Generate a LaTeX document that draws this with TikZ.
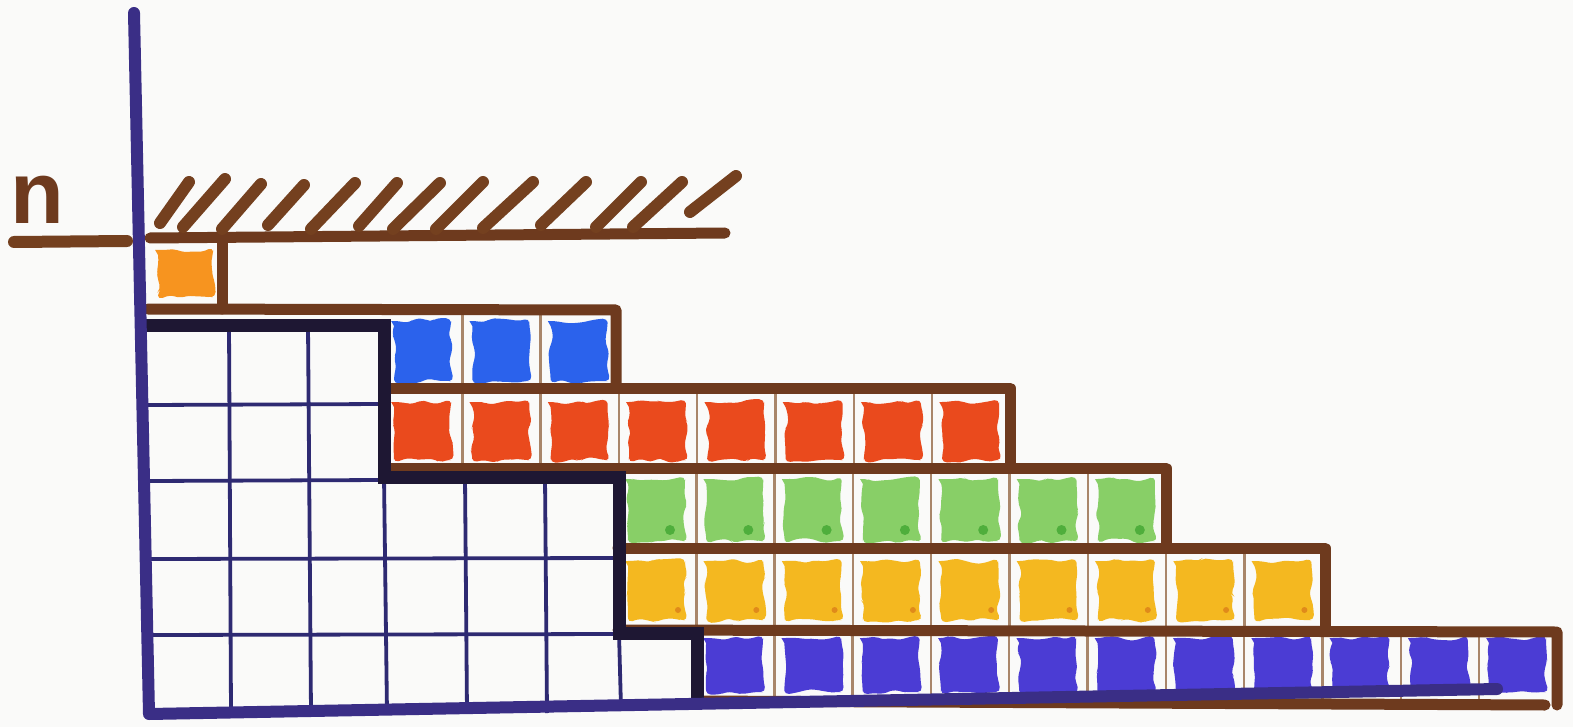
\documentclass[tikz,border=0pt]{standalone}
\usepackage{fontspec}
\setmainfont{Liberation Sans}
\usetikzlibrary{decorations.pathmorphing}
\definecolor{paper}{HTML}{FAFAF9}
\definecolor{axisblue}{HTML}{3A2E86}
\definecolor{stairblack}{HTML}{1E1733}
\definecolor{brownf}{HTML}{6E3A1E}
\definecolor{hatchbrown}{HTML}{74401F}
\definecolor{seplight}{HTML}{A9866A}
\definecolor{gridblue}{HTML}{2E2A72}
\definecolor{orangec}{HTML}{F7941F}
\definecolor{bluec}{HTML}{2B62EC}
\definecolor{redc}{HTML}{EA4A1D}
\definecolor{greenc}{HTML}{88CF67}
\definecolor{greendark}{HTML}{4FAE3C}
\definecolor{yellowc}{HTML}{F4B820}
\definecolor{yellowdot}{HTML}{E08A1A}
\definecolor{purplec}{HTML}{4B3CD4}
\begin{document}
\begin{tikzpicture}[x=1pt,y=-1pt,
  blob/.style={decorate, decoration={random steps, segment length=8pt, amplitude=2.8pt}, rounded corners=5pt},
  frame/.style={draw=brownf, line width=11pt, line cap=round, line join=round},
  sepline/.style={draw=seplight, line width=2.4pt},
  gridline/.style={draw=gridblue, line width=3.8pt},
  stair/.style={draw=stairblack, line width=13pt, line join=miter},
  axisline/.style={draw=axisblue, line width=12pt, line cap=round, line join=round},
  hatch/.style={draw=hatchbrown, line width=12pt, line cap=round}]
\pgfmathsetseed{7}
\fill[paper] (0,0) rectangle (1573,727);
\useasboundingbox (0,0) rectangle (1573,727);

% ---------- coloured blobs ----------
\fill[orangec, blob] (158,250) rectangle (213,297);
\foreach \i in {0,1,2}
  \fill[bluec, blob] ({384+78.3*\i+10},321) rectangle ({384+78.3*\i+67},381);
\foreach \i in {0,...,7}
  \fill[redc, blob] ({384+78.3*\i+10},402) rectangle ({384+78.3*\i+67},460);
\foreach \i in {0,...,6}{
  \fill[greenc, blob] ({618+78.3*\i+10},479) rectangle ({618+78.3*\i+67},541);
  \fill[greendark] ({618+78.3*\i+52},530) circle[radius=5pt];
}
\foreach \i in {0,...,8}{
  \fill[yellowc, blob] ({618+78.3*\i+10},561) rectangle ({618+78.3*\i+67},620);
  \fill[yellowdot] ({618+78.3*\i+60},610) circle[radius=3pt];
}
\foreach \i in {0,...,10}
  \fill[purplec, blob] ({696+78.3*\i+10},638) rectangle ({696+78.3*\i+67},692);

% ---------- thin separators inside coloured rows ----------
\foreach \i in {1,2}
  \draw[sepline] ({384+78.3*\i},310) -- ({384+78.3*\i},388);
\foreach \i in {1,...,7}
  \draw[sepline] ({384+78.3*\i},388) -- ({384+78.3*\i},468);
\foreach \i in {1,...,6}
  \draw[sepline] ({618+78.3*\i},468) -- ({618+78.3*\i},548);
\foreach \i in {1,...,8}
  \draw[sepline] ({618+78.3*\i},548) -- ({618+78.3*\i},630);
\foreach \i in {1,...,10}
  \draw[sepline] ({696+78.3*\i},630) -- ({696+78.3*\i},703);

% ---------- white grid ----------
\draw[gridline] (148,405) -- (384,404);
\draw[gridline] (148,481) -- (384,480);
\draw[gridline] (148,559) -- (619,558);
\draw[gridline] (150,635) -- (619,634);
\draw[gridline] (229,325) -- (231,713);
\draw[gridline] (308,325) -- (311,713);
\draw[gridline] (384,477) -- (387,713);
\draw[gridline] (465,477) -- (467,713);
\draw[gridline] (545,477) -- (547,713);
\draw[gridline] (619,633) -- (621,708);

% ---------- brown frames ----------
\draw[frame] (150,238) -- (725,233);
\draw[frame] (222,238) -- (222,309);
\draw[frame] (148,309) -- (616,310) -- (616,388);
\draw[frame] (384,388) -- (1010,388) -- (1010,468);
\draw[frame] (384,468) -- (1166,468) -- (1166,548);
\draw[frame] (618,548) -- (1325,548) -- (1325,630);
\draw[frame] (618,630) -- (1557,632) -- (1557,705);
\draw[frame] (696,701) -- (1545,705);

% ---------- black staircase ----------
\draw[stair] (146,325) -- (384,325) -- (384,477) -- (619,477) -- (619,633) -- (697,633) -- (697,708);

% ---------- axes ----------
\draw[axisline] (134,13) -- (149,714) -- (1497,689);

% ---------- hatching above the ceiling ----------
\foreach \xa/\ya/\xb/\yb in {160/223/189/182, 183/227/225/179, 222/229/261/184, 268/225/304/185,
  311/229/355/183, 359/226/397/183, 393/229/440/183, 436/229/483/182, 483/228/533/182,
  541/225/586/182, 596/227/641/182, 633/227/682/182, 690/212/736/176}
  \draw[hatch] (\xa,\ya) -- (\xb,\yb);

% ---------- tick and label ----------
\draw[hatch] (14,242) -- (127,241);
\node[text=brownf, font=\fontsize{88}{88}\selectfont\bfseries, inner sep=0pt] (nlabel) at (37,200) {n};
\end{tikzpicture}
\end{document}
